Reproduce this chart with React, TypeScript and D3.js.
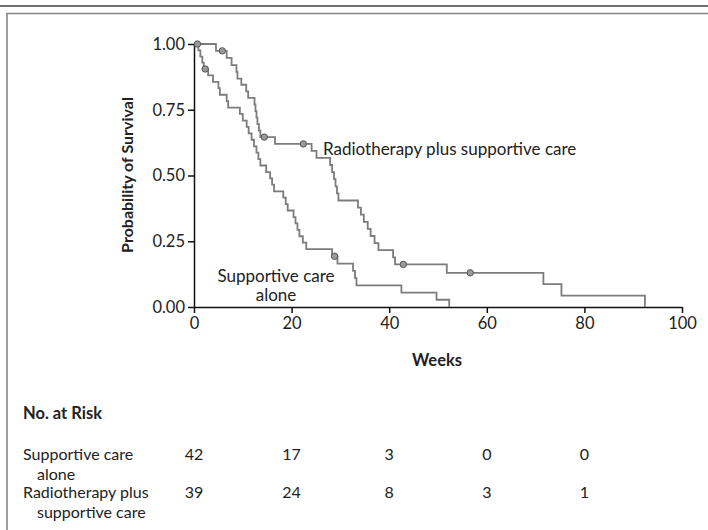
import React, { useEffect, useRef } from 'react';
import * as d3 from 'd3';

// Kaplan-Meier steps: [week, survival after the step]
const supportiveSteps: [number, number][] = [
  [0, 1], [0.9, 0.976], [1.3, 0.952], [1.7, 0.929], [2.0, 0.905], [2.9, 0.881],
  [3.9, 0.856], [5.0, 0.832], [5.3, 0.807], [6.7, 0.783], [7.0, 0.758], [9.4, 0.734],
  [10.0, 0.709], [10.8, 0.685], [11.2, 0.66], [11.8, 0.636], [12.3, 0.611], [12.8, 0.587],
  [13.2, 0.562], [13.6, 0.538], [14.8, 0.513], [15.6, 0.489], [16.0, 0.465], [16.4, 0.44],
  [18.3, 0.416], [18.8, 0.391], [19.2, 0.367], [20.4, 0.342], [20.8, 0.318], [21.2, 0.293],
  [21.6, 0.269], [22.3, 0.245], [23.0, 0.22], [28.3, 0.193], [29.4, 0.165], [32.6, 0.137],
  [33.0, 0.11], [33.3, 0.0825], [42.5, 0.055], [49.7, 0.0275], [52.3, 0],
];
const supportiveCensored: [number, number][] = [[0.7, 1], [2.3, 0.905], [28.8, 0.193]];

const radioSteps: [number, number][] = [
  [0, 1], [4.5, 0.974], [6.7, 0.947], [7.7, 0.92], [8.7, 0.894], [8.9, 0.868],
  [9.7, 0.845], [10.7, 0.82], [11.1, 0.795], [12.4, 0.77], [12.6, 0.745], [12.8, 0.72],
  [13.0, 0.695], [13.3, 0.671], [13.6, 0.646], [16.6, 0.62], [24.1, 0.594], [25.1, 0.567],
  [27.9, 0.54], [28.3, 0.513], [28.7, 0.486], [29.0, 0.459], [29.3, 0.432], [29.6, 0.405],
  [33.6, 0.378], [34.2, 0.351], [34.8, 0.324], [35.6, 0.297], [36.2, 0.27], [37.0, 0.243],
  [37.8, 0.216], [40.8, 0.189], [41.2, 0.162], [51.8, 0.13], [71.6, 0.087], [75.3, 0.043],
  [92.4, 0],
];
const radioCensored: [number, number][] = [[5.8, 0.974], [14.4, 0.646], [22.4, 0.62], [42.9, 0.162], [56.6, 0.13]];

const xTicks = [0, 20, 40, 60, 80, 100];
const yTicks = [0, 0.25, 0.5, 0.75, 1];

const riskWeeks = [0, 20, 40, 60, 80];
const riskSupportive = [42, 17, 3, 0, 0];
const riskRadio = [39, 24, 8, 3, 1];
const riskLabels = [['Supportive care', 'alone'], ['Radiotherapy plus', 'supportive care']];

const FONT = 'Lato, "Open Sans", sans-serif';
const GREY = '#7c7c7c';

const App = () => {
  const ref = useRef<SVGSVGElement>(null);

  useEffect(() => {
    const svg = d3.select(ref.current);
    svg.selectAll('*').remove();

    const x = d3.scaleLinear().domain([0, 100]).range([194, 682]);
    const y = d3.scaleLinear().domain([0, 1]).range([307, 44]);

    // frame
    svg.append('line').attr('x1', 0).attr('x2', 708).attr('y1', 6).attr('y2', 6)
      .attr('stroke', '#6e6e6e').attr('stroke-width', 2);
    svg.append('path').attr('d', 'M7,531V13.5H709').attr('fill', 'none')
      .attr('stroke', '#858585').attr('stroke-width', 1.6);

    // axes
    const yAxis = svg.append('g').attr('transform', 'translate(194,0)')
      .call(d3.axisLeft(y).tickValues(yTicks).tickFormat(d3.format('.2f')).tickSize(6).tickSizeOuter(0).tickPadding(3));
    const xAxis = svg.append('g').attr('transform', 'translate(0,307)')
      .call(d3.axisBottom(x).tickValues(xTicks).tickSize(6).tickSizeOuter(0).tickPadding(4));
    [yAxis, xAxis].forEach((g) => {
      g.attr('font-family', FONT).attr('font-size', 16.5);
      g.selectAll('path, line').attr('stroke', '#111').attr('stroke-width', 1.5);
      g.selectAll('text').attr('fill', '#222');
    });

    // curves
    const line = d3.line<[number, number]>()
      .x((d) => x(d[0]))
      .y((d) => y(d[1]))
      .curve(d3.curveStepAfter);

    [supportiveSteps, radioSteps].forEach((s) => {
      svg.append('path').attr('d', line(s)).attr('fill', 'none')
        .attr('stroke', GREY).attr('stroke-width', 1.8);
    });

    svg.append('g').selectAll('circle')
      .data([...supportiveCensored, ...radioCensored])
      .enter().append('circle')
      .attr('cx', (d) => x(d[0])).attr('cy', (d) => y(d[1])).attr('r', 3.2)
      .attr('fill', '#9a9a9a').attr('stroke', '#555').attr('stroke-width', 1);

    const txt = (t: string, px: number, py: number, opts: any = {}) =>
      svg.append('text').attr('x', px).attr('y', py).text(t)
        .attr('font-family', FONT).attr('font-size', opts.size || 17)
        .attr('font-weight', opts.bold ? 700 : 400)
        .attr('text-anchor', opts.anchor || 'start')
        .attr('fill', '#222');

    // curve labels
    txt('Radiotherapy plus supportive care', 323, 155);
    txt('Supportive care', 276, 282, { anchor: 'middle' });
    txt('alone', 276, 301, { anchor: 'middle' });

    // axis titles
    txt('Weeks', 437, 366, { bold: true, anchor: 'middle', size: 16.5 });
    svg.append('text').attr('transform', 'translate(133,175) rotate(-90)')
      .attr('text-anchor', 'middle').attr('font-family', FONT).attr('font-size', 16)
      .attr('font-weight', 700).attr('fill', '#222').text('Probability of Survival');

    // number at risk
    txt('No. at Risk', 23, 419, { bold: true, size: 16.5 });
    const rows = [riskSupportive, riskRadio];
    rows.forEach((vals, i) => {
      const by = 460 + i * 38;
      txt(riskLabels[i][0], 23, by, { size: 16 });
      txt(riskLabels[i][1], 37, by + 19.5, { size: 16 });
      vals.forEach((v, j) => txt(String(v), x(riskWeeks[j]), by, { anchor: 'middle', size: 16 }));
    });
  }, []);

  return (
    <svg ref={ref} width={708} height={530}
      style={{ position: 'absolute', left: 0, top: 0, background: '#fff' }} />
  );
};

export default App;
